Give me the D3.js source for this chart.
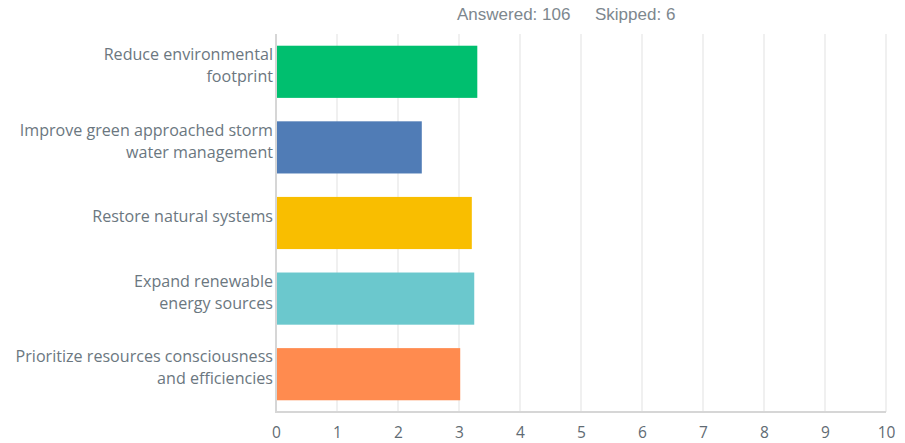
<!DOCTYPE html>
<html><head><meta charset="utf-8">
<script src="https://cdn.jsdelivr.net/npm/d3@7"></script>
<style>body{margin:0;background:#fff;}svg{display:block;}</style>
</head><body>
<script>
const categories = [
  ["Reduce environmental", "footprint"],
  ["Improve green approached storm", "water management"],
  ["Restore natural systems"],
  ["Expand renewable", "energy sources"],
  ["Prioritize resources consciousness", "and efficiencies"]
];
const values = [3.30, 2.39, 3.21, 3.25, 3.02];
const colors = ["#00BF6F", "#507CB6", "#F9BE00", "#6BC8CD", "#FF8B4F"];
const ticks = [0,1,2,3,4,5,6,7,8,9,10];
const headerText = ["Answered: 106", "Skipped: 6"];

(function() {
const W = 905, H = 443;
const svg = d3.select("body").append("svg").attr("width", W).attr("height", H);
const mLeft = 276, mRight = 886, mTop = 34, mBottom = 412;
const x = d3.scaleLinear().domain([0, 10]).range([mLeft, mRight]);
const y = d3.scaleBand().domain(d3.range(values.length)).range([mTop, mBottom]).paddingInner(0.31).paddingOuter(0.155);

// gridlines
svg.append("g").selectAll("line").data(ticks.slice(1)).join("line")
  .attr("x1", d => x(d)).attr("x2", d => x(d))
  .attr("y1", mTop).attr("y2", mBottom)
  .attr("stroke", "#ebebeb").attr("stroke-width", 1.5);

// bars
svg.append("g").selectAll("rect").data(values).join("rect")
  .attr("x", x(0)).attr("y", (d, i) => y(i))
  .attr("width", d => x(d) - x(0)).attr("height", y.bandwidth())
  .attr("fill", (d, i) => colors[i]);

// axes lines
svg.append("line").attr("x1", mLeft).attr("x2", mLeft).attr("y1", mTop).attr("y2", mBottom + 1)
  .attr("stroke", "#d6d6d6").attr("stroke-width", 2);
svg.append("line").attr("x1", mLeft).attr("x2", mRight).attr("y1", mBottom).attr("y2", mBottom)
  .attr("stroke", "#d6d6d6").attr("stroke-width", 2);

// x tick labels
const xAxis = d3.axisBottom(x).tickValues(ticks).tickSize(0).tickPadding(0).tickFormat(d3.format("d"));
const gx = svg.append("g").attr("transform", `translate(0,${mBottom + 15})`).call(xAxis);
gx.select(".domain").remove();
gx.selectAll("text").attr("font-family", "'Open Sans', Lato, sans-serif").attr("font-size", 15.5)
  .attr("fill", "#5f6b73").attr("dy", "0.71em");

// category labels
const lab = svg.append("g").selectAll("text").data(categories).join("text")
  .attr("text-anchor", "end")
  .attr("font-family", "'Open Sans', Lato, sans-serif").attr("font-size", 16.1)
  .attr("fill", "#6b777f")
  .attr("transform", (d, i) => `translate(${mLeft - 3},${y(i) + y.bandwidth() / 2 - 6.5})`);
lab.each(function(d) {
  const t = d3.select(this);
  const n = d.length;
  d.forEach((line, k) => {
    t.append("tspan").attr("x", 0).attr("y", (k - (n - 1) / 2) * 22).attr("dy", "0.35em").text(line);
  });
});

// header
const hdr = svg.append("g").attr("font-family", "'Liberation Sans', Arial, sans-serif")
  .attr("font-size", 17).attr("fill", "#7d878e");
hdr.append("text").attr("x", 457).attr("y", 20).text(headerText[0]);
hdr.append("text").attr("x", 595).attr("y", 20).text(headerText[1]);
})();
</script>
</body></html>
